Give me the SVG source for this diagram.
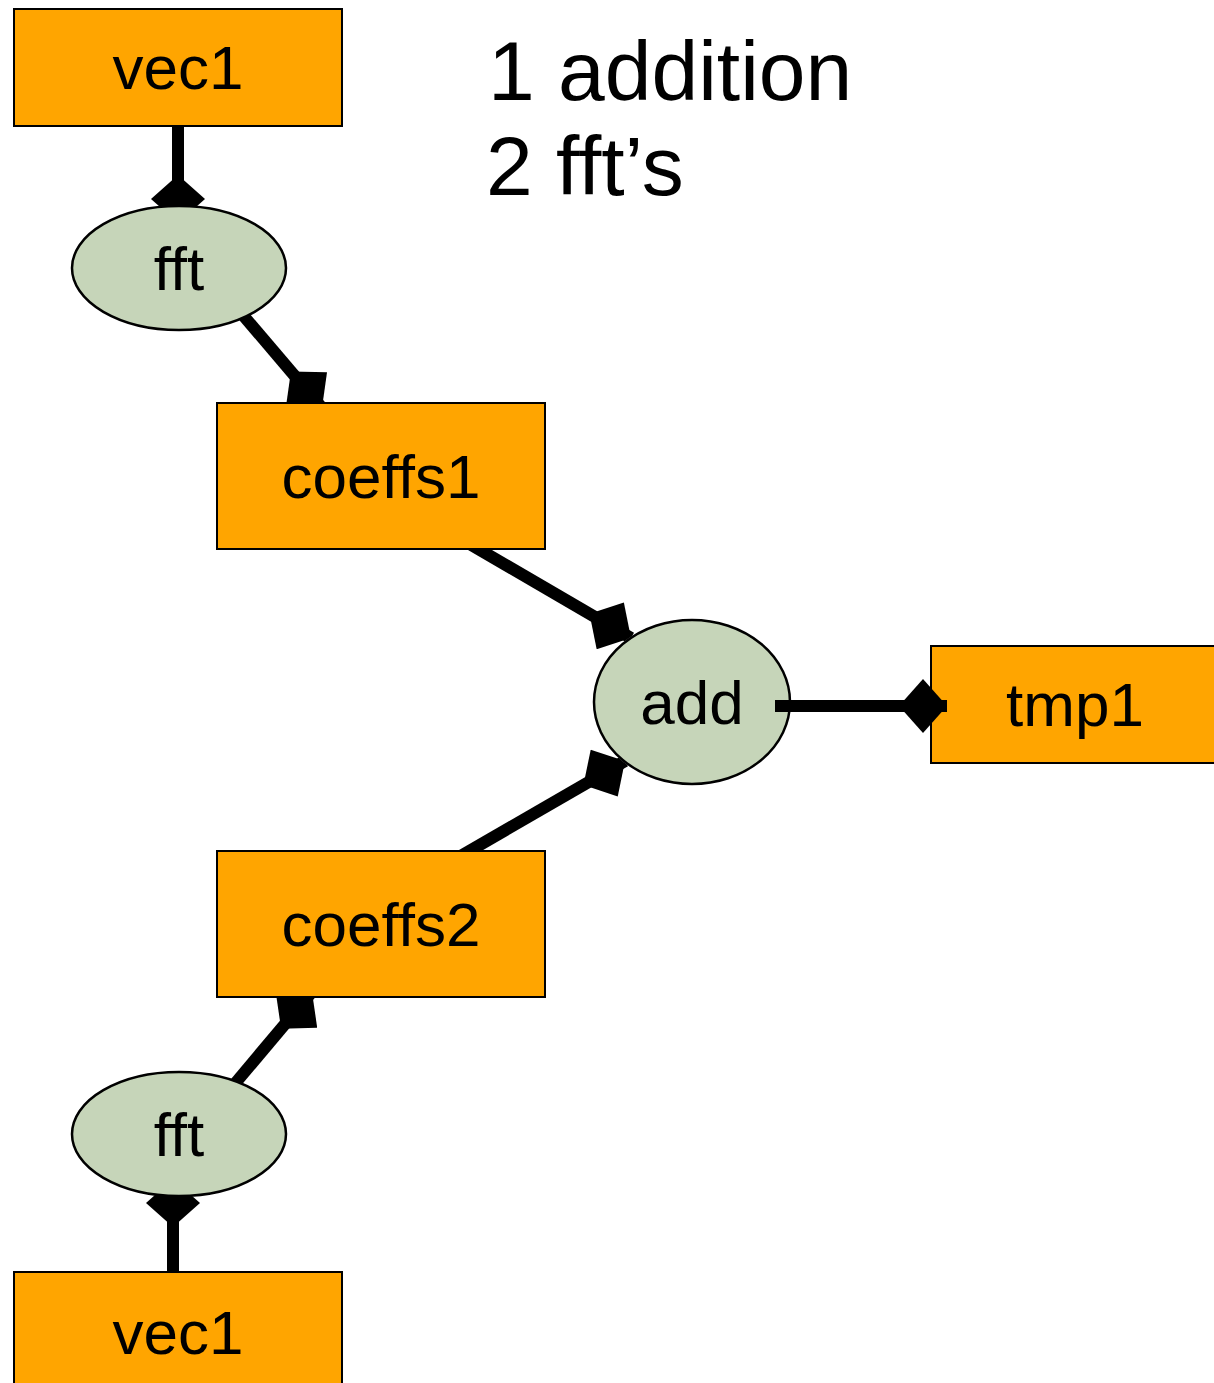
<svg xmlns="http://www.w3.org/2000/svg" width="1214" height="1383" viewBox="0 0 1214 1383">
<style>
.box{fill:#FFA500;stroke:#000;stroke-width:2}
.op{fill:#C6D5B9;stroke:#000;stroke-width:2.5}
.lbl{font-family:"Liberation Sans",Arial,sans-serif;font-size:62px;fill:#000;text-anchor:middle}
.note{font-family:"Liberation Sans",Arial,sans-serif;font-size:84px;fill:#000}
.edge{fill:none;stroke:#000;stroke-width:12;marker-end:url(#dia)}
</style>
<defs>
<marker id="dia" viewBox="0 -27 48 54" refX="48" refY="0" markerWidth="48" markerHeight="54" markerUnits="userSpaceOnUse" orient="auto">
<path d="M0,0 L24,-27 L48,0 L24,27 z" fill="#000"/>
</marker>
<mask id="hideAdd" maskUnits="userSpaceOnUse" x="0" y="0" width="1214" height="1383">
<rect x="0" y="0" width="1214" height="1383" fill="#fff"/>
<ellipse cx="692" cy="702" rx="99" ry="83" fill="#000"/>
</mask>
</defs>
<g id="node-tmp1"><rect class="box" x="931" y="646" width="300" height="117"/><text class="lbl" x="1075" y="726">tmp1</text></g>
<g id="node-add"><ellipse class="op" cx="692" cy="702" rx="98" ry="82"/><text class="lbl" x="692" y="724">add</text></g>
<g id="connectors">
<path class="edge" d="M178,120 L178,223"/>
<path class="edge" d="M231,301 L322,408"/>
<path class="edge" d="M468,543 L631,638" mask="url(#hideAdd)"/>
<path class="edge" d="M459,857 L625,761" mask="url(#hideAdd)"/>
<path class="edge" d="M775,706 L947,706"/>
<path class="edge" d="M173,1280 L173,1179"/>
<path class="edge" d="M227,1093 L312,992"/>
</g>
<g id="node-vec1-top"><rect class="box" x="14" y="9" width="328" height="117"/><text class="lbl" x="178" y="89">vec1</text></g>
<g id="node-fft1"><ellipse class="op" cx="179" cy="268" rx="107" ry="62"/><text class="lbl" x="179" y="290">fft</text></g>
<g id="node-coeffs1"><rect class="box" x="217" y="403" width="328" height="146"/><text class="lbl" x="381" y="498">coeffs1</text></g>
<g id="node-coeffs2"><rect class="box" x="217" y="851" width="328" height="146"/><text class="lbl" x="381" y="946">coeffs2</text></g>
<g id="node-fft2"><ellipse class="op" cx="179" cy="1134" rx="107" ry="62"/><text class="lbl" x="179" y="1156">fft</text></g>
<g id="node-vec1-bottom"><rect class="box" x="14" y="1272" width="328" height="130"/><text class="lbl" x="178" y="1354">vec1</text></g>
<g id="note"><text class="note" x="488" y="100">1 addition</text><text class="note" x="486" y="195">2 fft’s</text></g>
</svg>
